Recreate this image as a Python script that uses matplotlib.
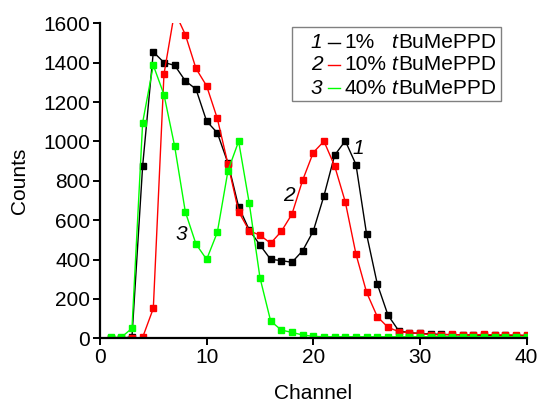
import matplotlib
matplotlib.use("Agg")
import matplotlib.pyplot as plt
from matplotlib.patches import Rectangle
from matplotlib.lines import Line2D

plt.rcParams['font.family'] = ['Liberation Sans', 'DejaVu Sans']

channels = list(range(1, 41))
counts_1pct = [0, 0, 8, 876, 1455, 1401, 1387, 1308, 1266, 1103,
               1044, 890, 668, 550, 474, 401, 395, 386, 445, 545,
               724, 930, 1003, 883, 528, 276, 118, 39, 28, 25,
               22, 20, 18, 18, 16, 16, 15, 15, 14, 14]
counts_10pct = [0, 0, 0, 5, 152, 1342, 1660, 1543, 1371, 1282,
                1117, 885, 643, 546, 524, 483, 543, 631, 803, 944,
                1001, 876, 693, 428, 233, 110, 56, 34, 28, 25,
                18, 18, 20, 17, 17, 20, 17, 17, 17, 15]
counts_40pct = [5, 5, 51, 1096, 1387, 1238, 976, 643, 479, 401,
                538, 851, 1001, 685, 308, 88, 42, 30, 17, 10,
                8, 8, 8, 8, 8, 8, 8, 8, 8, 8,
                8, 8, 8, 8, 8, 8, 8, 8, 8, 8]
series_numbers = ['1', '2', '3']
series_pct = ['1%', '10%', '40%']
colors = ['#000000', '#ff0000', '#00ff00']
x_ticks = [0, 10, 20, 30, 40]
y_ticks = [0, 200, 400, 600, 800, 1000, 1200, 1400, 1600]

fig = plt.figure(figsize=(5.39, 4.03), dpi=100)
ax = fig.add_axes([0.1855, 0.1605, 0.7915, 0.7815])

for ys, c in zip([counts_1pct, counts_10pct, counts_40pct], colors):
    ax.plot(channels, ys, color=c, lw=1.0, marker='s', ms=4.4,
            mec=c, mfc=c, clip_on=True)

ax.set_xlim(0, 40)
ax.set_ylim(0, 1600)
ax.set_xticks(x_ticks)
ax.set_yticks(y_ticks)
for s in ['top', 'right']:
    ax.spines[s].set_visible(False)
for s in ['left', 'bottom']:
    ax.spines[s].set_linewidth(1.6)
ax.tick_params(direction='out', length=5, width=1.4, labelsize=15, pad=2)
ax.set_xlabel('Channel', fontsize=15, labelpad=12)
ax.set_ylabel('Counts', fontsize=15, labelpad=10)

# curve labels
ax.text(24.2, 965, '1', fontsize=15, style='italic', ha='center', va='center')
ax.text(17.7, 727, '2', fontsize=15, style='italic', ha='center', va='center')
ax.text(7.65, 528, '3', fontsize=15, style='italic', ha='center', va='center')

# custom legend
tr = ax.transAxes
ax.add_patch(Rectangle((0.449, 0.754), 0.492, 0.233, transform=tr,
                       fill=True, fc='white', ec='#808080', lw=1.0, zorder=5))
rows = [0.938, 0.868, 0.794]
for num, pct, c, yy in zip(series_numbers, series_pct, colors, rows):
    ax.text(0.521, yy, num, transform=tr, fontsize=15, style='italic',
            ha='right', va='center', zorder=6)
    ax.add_line(Line2D([0.534, 0.5625], [yy, yy], transform=tr, color=c,
                       lw=1.0, zorder=6))
    ax.text(0.574, yy, pct, transform=tr, fontsize=15, ha='left',
            va='center', zorder=6)
    ax.text(0.682, yy, 't', transform=tr, fontsize=15, style='italic',
            ha='left', va='center', zorder=6)
    ax.text(0.699, yy, 'BuMePPD', transform=tr, fontsize=15, ha='left',
            va='center', zorder=6)

fig.savefig('out.png', dpi=100)
